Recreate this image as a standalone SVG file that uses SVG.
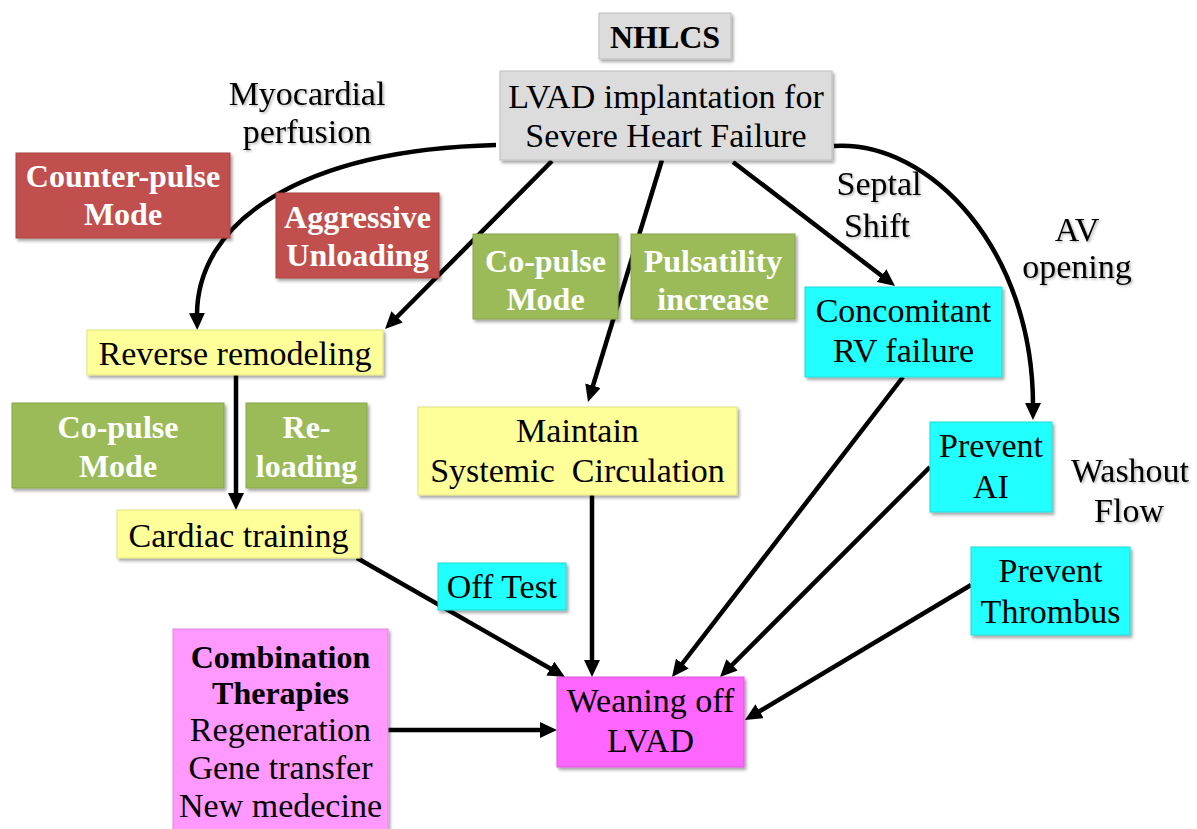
<svg xmlns="http://www.w3.org/2000/svg" width="1197" height="829" viewBox="0 0 1197 829">
<defs>
  <filter id="sh" x="-10%" y="-10%" width="130%" height="130%">
    <feDropShadow dx="2" dy="2.5" stdDeviation="1.5" flood-color="#000" flood-opacity="0.35"/>
  </filter>
  <filter id="tsh" x="-10%" y="-20%" width="130%" height="150%">
    <feDropShadow dx="1.5" dy="1.5" stdDeviation="1.2" flood-color="#000" flood-opacity="0.3"/>
  </filter>
  <marker id="ah" markerUnits="userSpaceOnUse" markerWidth="17" markerHeight="16" viewBox="0 0 17 16" refX="5" refY="8" orient="auto">
    <path d="M0,0 L17,8 L0,16 z" fill="#000"/>
  </marker>
  <style>
    text { font-family: "Liberation Serif", "Times New Roman", serif; font-size: 34px; text-anchor: middle; fill: #000; }
    .b { font-weight: bold; font-size: 32px; }
    .w { fill: #fff; }
    .box { filter: url(#sh); stroke-width: 1; }
    .gray { fill: #DCDCDC; stroke: #BDBDBD; }
    .red { fill: #C0504D; stroke: #A8403D; }
    .green { fill: #9BBB59; stroke: #87A34B; }
    .yellow { fill: #FFFF99; stroke: #E0E080; }
    .cyan { fill: #22FFFF; stroke: #20D8D8; }
    .mag { fill: #FF66FF; stroke: #E055E0; }
    .pink { fill: #FF99FF; stroke: #E088E0; }
    .lbl { filter: url(#tsh); }
    .conn path, .conn line { stroke: #000; stroke-width: 4.5; fill: none; marker-end: url(#ah); }
  </style>
</defs>
<rect width="1197" height="829" fill="#fff"/>

<g id="connectors" class="conn">
  <path d="M496,145 C300,150 195,222 197,318"/>
  <line x1="552" y1="161" x2="393.5" y2="320.5"/>
  <line x1="662" y1="160" x2="591.5" y2="390.5"/>
  <line x1="733" y1="162" x2="885.5" y2="278.7"/>
  <path d="M834,146 C930,140 1034,250 1033,408"/>
  <line x1="236" y1="375" x2="236" y2="498"/>
  <line x1="357" y1="558" x2="554.6" y2="671"/>
  <line x1="592" y1="495" x2="592" y2="665"/>
  <line x1="903" y1="377" x2="679.3" y2="667.5"/>
  <line x1="930" y1="467" x2="728.5" y2="668.5"/>
  <line x1="971" y1="585" x2="755.3" y2="713.8"/>
  <line x1="388" y1="730" x2="545" y2="730"/>
</g>

<g id="nhlcs">
  <rect class="box gray" x="599" y="13" width="132" height="46"/>
  <text class="b" x="665" y="48">NHLCS</text>
</g>
<g id="lvad">
  <rect class="box gray" x="500" y="71" width="332" height="89"/>
  <text x="666" y="108">LVAD implantation for</text>
  <text x="666" y="147">Severe Heart Failure</text>
</g>
<g id="counter-pulse">
  <rect class="box red" x="16" y="153" width="214" height="85"/>
  <text class="b w" x="123" y="187">Counter-pulse</text>
  <text class="b w" x="123" y="225">Mode</text>
</g>
<g id="aggressive">
  <rect class="box red" x="276" y="193" width="163" height="85"/>
  <text class="b w" x="357.5" y="228">Aggressive</text>
  <text class="b w" x="357.5" y="266">Unloading</text>
</g>
<g id="copulse-top">
  <rect class="box green" x="473" y="234" width="145" height="85"/>
  <text class="b w" x="545.5" y="272">Co-pulse</text>
  <text class="b w" x="545.5" y="310">Mode</text>
</g>
<g id="pulsatility">
  <rect class="box green" x="631" y="234" width="164" height="85"/>
  <text class="b w" x="713" y="272">Pulsatility</text>
  <text class="b w" x="713" y="310">increase</text>
</g>
<g id="reverse">
  <rect class="box yellow" x="87" y="330" width="296" height="45"/>
  <text x="235" y="365">Reverse remodeling</text>
</g>
<g id="copulse-low">
  <rect class="box green" x="12" y="403" width="212" height="85"/>
  <text class="b w" x="118" y="438">Co-pulse</text>
  <text class="b w" x="118" y="477">Mode</text>
</g>
<g id="reloading">
  <rect class="box green" x="246" y="403" width="121" height="85"/>
  <text class="b w" x="306.5" y="438">Re-</text>
  <text class="b w" x="306.5" y="477">loading</text>
</g>
<g id="cardiac">
  <rect class="box yellow" x="117" y="510" width="243" height="48"/>
  <text x="238.5" y="547">Cardiac training</text>
</g>
<g id="maintain">
  <rect class="box yellow" x="418" y="407" width="319" height="88"/>
  <text x="577.5" y="442">Maintain</text>
  <text x="577.5" y="482" xml:space="preserve">Systemic  Circulation</text>
</g>
<g id="offtest">
  <rect class="box cyan" x="438" y="563" width="128" height="47"/>
  <text x="502" y="598">Off Test</text>
</g>
<g id="concomitant">
  <rect class="box cyan" x="805" y="287" width="197" height="90"/>
  <text x="903.5" y="322">Concomitant</text>
  <text x="903.5" y="362">RV failure</text>
</g>
<g id="prevent-ai">
  <rect class="box cyan" x="930" y="422" width="122" height="90"/>
  <text x="991" y="457">Prevent</text>
  <text x="991" y="498">AI</text>
</g>
<g id="prevent-thrombus">
  <rect class="box cyan" x="971" y="547" width="159" height="88"/>
  <text x="1050.5" y="582">Prevent</text>
  <text x="1050.5" y="623">Thrombus</text>
</g>
<g id="weaning">
  <rect class="box mag" x="557" y="677" width="187" height="90"/>
  <text x="650.5" y="712">Weaning off</text>
  <text x="650.5" y="752">LVAD</text>
</g>
<g id="combination">
  <rect class="box pink" x="173" y="629" width="215" height="205"/>
  <text class="b" x="280.5" y="668">Combination</text>
  <text class="b" x="280.5" y="704">Therapies</text>
  <text x="280.5" y="741">Regeneration</text>
  <text x="280.5" y="779">Gene transfer</text>
  <text x="280.5" y="817">New medecine</text>
</g>

<g id="labels" class="lbl">
  <text x="307" y="105">Myocardial</text>
  <text x="307" y="143">perfusion</text>
  <text x="879" y="195">Septal</text>
  <text x="877" y="237">Shift</text>
  <text x="1077" y="241">AV</text>
  <text x="1077" y="278">opening</text>
  <text x="1130" y="482">Washout</text>
  <text x="1129" y="522">Flow</text>
</g>
</svg>
